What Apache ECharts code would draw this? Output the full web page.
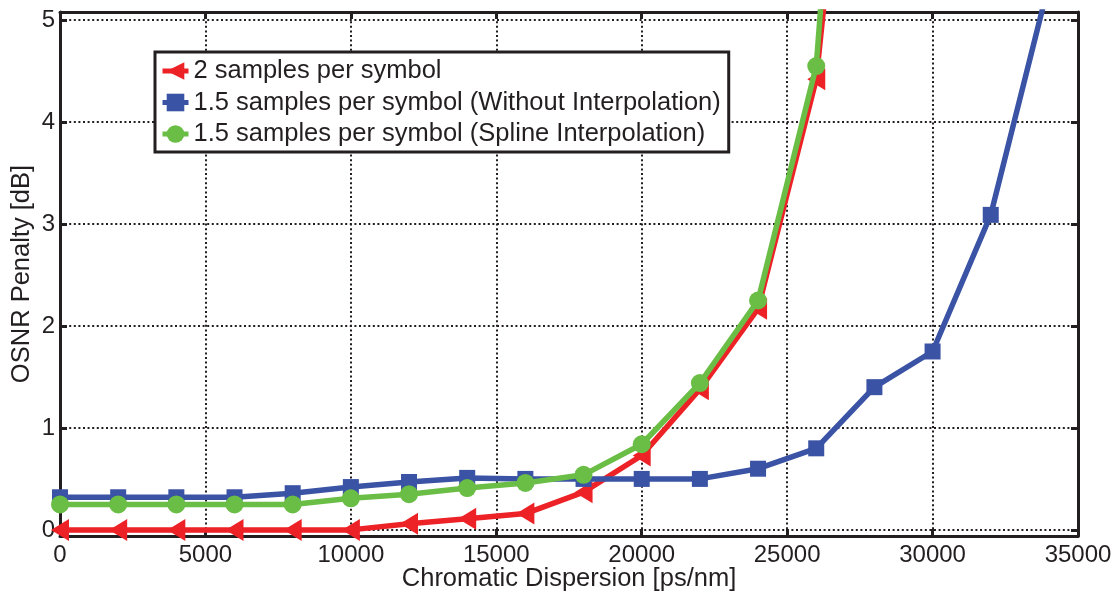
<!DOCTYPE html>
<html>
<head>
<meta charset="utf-8">
<script src="https://cdn.jsdelivr.net/npm/echarts@6/dist/echarts.min.js"></script>
<style>
html,body{margin:0;padding:0;background:#fff;}
#chart{width:1118px;height:592px;}
</style>
</head>
<body>
<div id="chart"></div>
<script>
// Data
const dispersion = [0,2000,4000,6000,8000,10000,12000,14000,16000,18000,20000,22000,24000,26000,28000,30000,32000,34000];
const seriesNames = [
  '2 samples per symbol',
  '1.5 samples per symbol (Without Interpolation)',
  '1.5 samples per symbol (Spline Interpolation)'
];
const twoSamples      = [0,0,0,0,0,0,0.06,0.11,0.16,0.37,0.73,1.38,2.17,4.42,9.9];
const withoutInterp   = [0.32,0.32,0.32,0.32,0.36,0.42,0.47,0.51,0.5,0.5,0.5,0.5,0.6,0.8,1.4,1.75,3.09,5.36];
const splineInterp    = [0.25,0.25,0.25,0.25,0.25,0.31,0.35,0.41,0.46,0.54,0.84,1.44,2.25,4.55,12];
const xTicks = [0,5000,10000,15000,20000,25000,30000,35000];
const yTicks = [0,1,2,3,4,5];

function pairs(vals){ return vals.map((v,i)=>[dispersion[i], v]); }

const chart = echarts.init(document.getElementById('chart'), null, {renderer:'canvas'});
const FONT = 'Liberation Sans';
const INK = '#231F20';
const gridLine = {show:true, lineStyle:{color:INK, width:2, type:[2,2.6]}};

const option = {
  animation:false,
  backgroundColor:'#fff',
  textStyle:{fontFamily:FONT},
  grid:{left:60, right:40, top:12, bottom:56, containLabel:false, outerBoundsMode:'none'},
  legend:{
    left:155, top:52, orient:'vertical',
    backgroundColor:'#fff', borderColor:INK, borderWidth:3,
    padding:[6,8,5,5],
    itemWidth:26, itemHeight:22, itemGap:5.5,
    lineStyle:{width:5},
    textStyle:{fontFamily:FONT, fontSize:25.5, color:INK, lineHeight:26},
    data:seriesNames
  },
  xAxis:[{
    type:'value', min:0, max:35000, interval:5000, position:'bottom',
    axisLine:{show:true, onZero:false, lineStyle:{color:INK, width:3}},
    axisTick:{show:true, inside:true, length:7, lineStyle:{color:INK, width:3}},
    axisLabel:{show:true, fontFamily:FONT, fontSize:24, color:INK, margin:7,
      formatter:v=> xTicks.includes(v) ? String(v) : ''},
    splitLine:gridLine,
    name:'Chromatic Dispersion [ps/nm]', nameLocation:'middle', nameGap:30,
    nameMoveOverlap:false,
    nameTextStyle:{fontFamily:FONT, fontSize:25.5, color:INK}
  },{
    type:'value', min:0, max:35000, interval:5000, position:'top',
    axisLine:{show:true, onZero:false, lineStyle:{color:INK, width:3}},
    axisTick:{show:true, inside:true, length:7, lineStyle:{color:INK, width:3}},
    axisLabel:{show:false}, splitLine:{show:false}
  }],
  yAxis:[{
    type:'value', min:-0.06, max:5.08, position:'left',
    axisLine:{show:true, onZero:false, lineStyle:{color:INK, width:3}},
    axisTick:{show:true, inside:true, length:7, lineStyle:{color:INK, width:3}},
    axisLabel:{show:true, fontFamily:FONT, fontSize:24, color:INK, margin:5,
      showMinLabel:false, showMaxLabel:false,
      formatter:v=> yTicks.includes(v) ? String(v) : ''},
    splitLine:gridLine,
    name:'OSNR Penalty [dB]', nameLocation:'middle', nameGap:25,
    nameMoveOverlap:false,
    nameTextStyle:{fontFamily:FONT, fontSize:25.5, color:INK}
  },{
    type:'value', min:-0.06, max:5.08, position:'right',
    axisLine:{show:true, onZero:false, lineStyle:{color:INK, width:3}},
    axisTick:{show:true, inside:true, length:7, lineStyle:{color:INK, width:3}},
    axisLabel:{show:false}, splitLine:{show:false}
  }],
  series:[
    {name:seriesNames[0], type:'line', data:pairs(twoSamples), clip:true,
      symbol:'triangle', symbolSize:[22,18], symbolRotate:90, showAllSymbol:true,
      lineStyle:{color:'#ED2227', width:5.5}, itemStyle:{color:'#ED2227'}, z:2},
    {name:seriesNames[1], type:'line', data:pairs(withoutInterp), clip:true,
      symbol:'rect', symbolSize:16, showAllSymbol:true,
      lineStyle:{color:'#3A53A4', width:5.5}, itemStyle:{color:'#3A53A4'}, z:3},
    {name:seriesNames[2], type:'line', data:pairs(splineInterp), clip:true,
      symbol:'circle', symbolSize:18, showAllSymbol:true,
      lineStyle:{color:'#6ABD45', width:5.5}, itemStyle:{color:'#6ABD45'}, z:4}
  ]
};
chart.setOption(option);
</script>
</body>
</html>
